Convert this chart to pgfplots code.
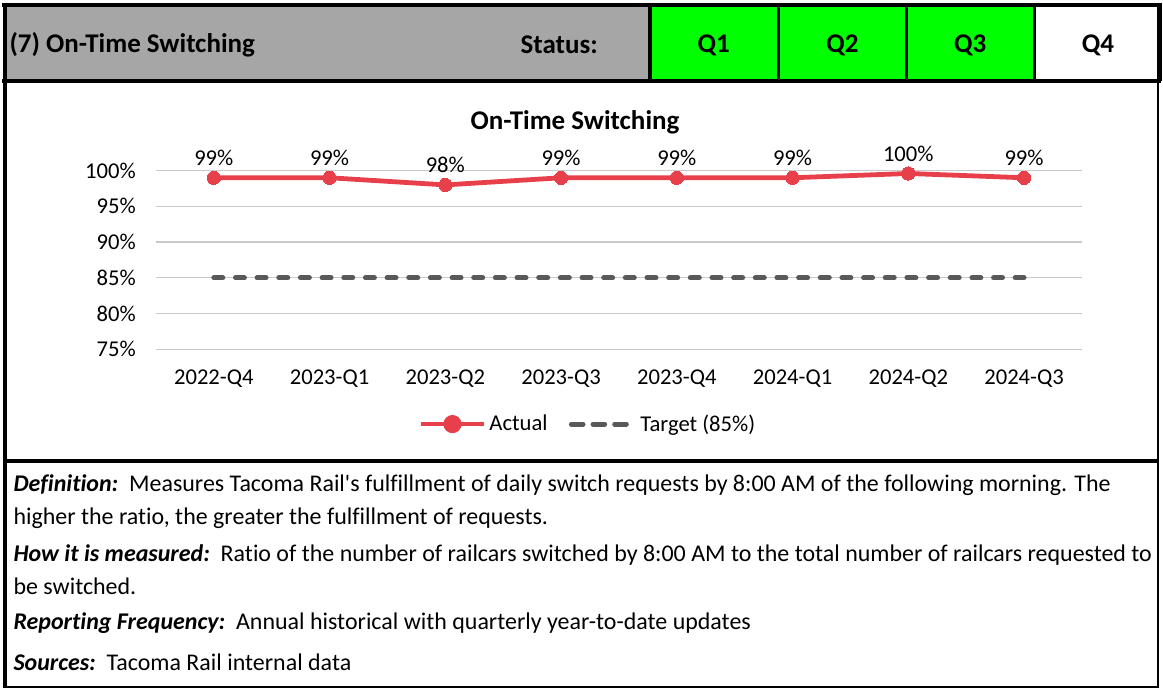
\documentclass[border=0pt]{standalone}
\usepackage{fontspec}
\setmainfont{Carlito}[Ligatures={TeXOff,CommonOff}]
\usepackage{pgfplots}
\pgfplotsset{compat=1.18}
\definecolor{hdrgray}{HTML}{A6A6A6}
\definecolor{qgreen}{HTML}{00FF00}
\definecolor{actred}{HTML}{E8404A}
\definecolor{tgtgray}{HTML}{595959}
\definecolor{gridgray}{HTML}{C9C9C9}
\newcommand{\bodyfont}{\fontsize{18}{21}\selectfont}
\newcommand{\tickfont}{\fontsize{17}{20}\selectfont}
\newcommand{\hdrfont}{\fontsize{20.3}{24}\selectfont\bfseries}
\begin{document}
\begin{tikzpicture}[x=0.75pt,y=0.75pt]
% page
\fill[white] (0,0) rectangle (1163,690);
% header fills
\fill[hdrgray] (5,685) rectangle (650,609);
\fill[qgreen] (650,685) rectangle (1035.5,609);
% header lines
\draw[line width=3.4pt] (1,685) -- (1162,685);
\draw[line width=3pt] (1,609) -- (1162,609);
\draw[line width=3pt] (650,685) -- (650,609);
\draw[line width=2.3pt] (778.5,685) -- (778.5,609);
\draw[line width=2.3pt] (907.5,685) -- (907.5,609);
\draw[line width=2.3pt] (1035.5,685) -- (1035.5,609);
\draw[line width=3.4pt] (1160.5,687) -- (1160.5,609);
% outer sides
\draw[line width=3pt] (4,687) -- (4,1);
\draw[line width=1.6pt] (1159,609) -- (1159,1);
\draw[line width=2.3pt] (3,228) -- (1160,228);
\draw[line width=1.6pt] (3,1.5) -- (1160,1.5);
% header texts
\node[anchor=west,inner sep=0pt] at (8,645) {\hdrfont (7) On-Time Switching};
\node[anchor=east,inner sep=0pt] at (598,645) {\hdrfont Status:};
\node[inner sep=0pt] at (714,645) {\hdrfont Q1};
\node[inner sep=0pt] at (843,645) {\hdrfont Q2};
\node[inner sep=0pt] at (971,645) {\hdrfont Q3};
\node[inner sep=0pt] at (1099,645) {\hdrfont Q4};
% chart title
\node[inner sep=0pt] at (575,567) {\hdrfont On-Time Switching};
\coordinate (axorig) at (155,340);
% axis
\begin{axis}[
  at={(axorig)}, anchor=south west,
  scale only axis, width=696pt, height=134.25pt,
  xmin=-0.5, xmax=7.5, ymin=75, ymax=100,
  xtick={0,...,7},
  xticklabels={2022-Q4,2023-Q1,2023-Q2,2023-Q3,2023-Q4,2024-Q1,2024-Q2,2024-Q3},
  ytick={75,80,85,90,95,100},
  yticklabel={\pgfmathprintnumber{\tick}\%},
  /pgf/number format/assume math mode=true,
  axis line style={draw=none},
  tick style={draw=none},
  ymajorgrids, major grid style={gridgray, line width=1pt},
  tick label style={font=\tickfont},
  yticklabel style={anchor=east, inner sep=0pt, xshift=-15pt},
  xticklabel style={anchor=center, inner sep=0pt, yshift=-21.75pt},
  clip=false,
  legend style={at={(0.4666,-0.419)}, anchor=center, draw=none, fill=none, font=\tickfont, legend columns=2, /tikz/every even column/.append style={column sep=14pt}},
  legend cell align=left,
]
\addplot[actred, line width=3.6pt, mark=*, mark size=5pt, mark options={fill=actred, draw=actred, solid, line width=0pt},
  nodes near coords, point meta=explicit symbolic,
  every node near coord/.append style={font=\tickfont, text=black, anchor=center, yshift=15pt},
  legend image code/.code={\draw[actred, line width=3.6pt] (0pt,0pt) -- (48pt,0pt); \fill[actred] (24pt,0pt) circle (5pt);}]
coordinates {(0,99)[99\%] (1,99)[99\%] (2,98)[98\%] (3,99)[99\%] (4,99)[99\%] (5,99)[99\%] (6,99.6)[100\%] (7,99)[99\%]};
\addlegendentry{Actual}
\addplot[tgtgray, line width=3.75pt, line cap=round, dash pattern=on 6.75pt off 9.53pt,
  legend image code/.code={\draw[tgtgray, line width=3.75pt, line cap=round, dash pattern=on 6.75pt off 9.53pt] (2pt,0pt) -- (41.3pt,0pt); \path (0pt,0pt) -- (48pt,0pt);}]
coordinates {(0,85) (1,85) (2,85) (3,85) (4,85) (5,85) (6,85) (7,85)};
\addlegendentry{Target (85\%)}
\end{axis}
% notes
\node[anchor=west,inner sep=0pt] at (12,204) {\bodyfont \textbf{\textit{Definition:}}\ \ Measures Tacoma Rail's fulfillment of daily switch requests by 8:00 AM of the following morning. The};
\node[anchor=west,inner sep=0pt] at (12,171) {\bodyfont higher the ratio, the greater the fulfillment of requests.};
\node[anchor=west,inner sep=0pt] at (12,134) {\bodyfont \textbf{\textit{How it is measured:}}\ \ Ratio of the number of railcars switched by 8:00 AM to the total number of railcars requested to};
\node[anchor=west,inner sep=0pt] at (12,102) {\bodyfont be switched.};
\node[anchor=west,inner sep=0pt] at (12,66) {\bodyfont \textbf{\textit{Reporting Frequency:}}\ \ Annual historical with quarterly year-to-date updates};
\node[anchor=west,inner sep=0pt] at (12,26) {\bodyfont \textbf{\textit{Sources:}}\ \ Tacoma Rail internal data};
\end{tikzpicture}
\end{document}
